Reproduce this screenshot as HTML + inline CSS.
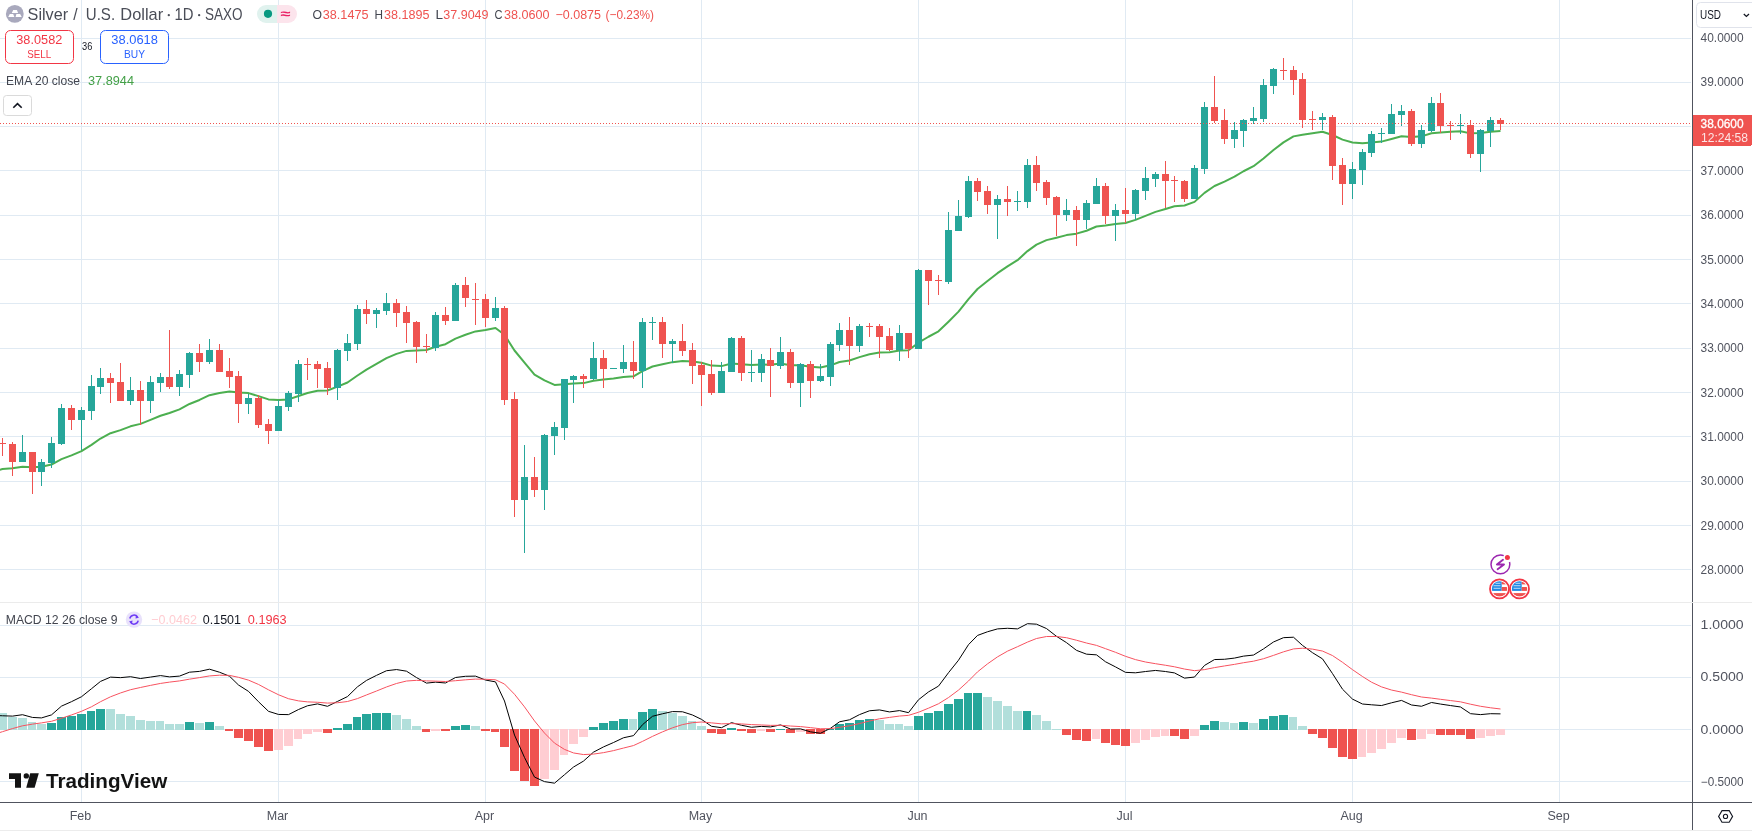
<!DOCTYPE html>
<html><head><meta charset="utf-8"><style>
html,body{margin:0;padding:0;background:#fff;width:1752px;height:831px;overflow:hidden;font-family:"Liberation Sans",sans-serif;}
#c{position:absolute;left:0;top:0;will-change:transform;}
.t{position:absolute;white-space:nowrap;}
</style></head><body>
<svg id="c" width="1752" height="831" viewBox="0 0 1752 831" shape-rendering="crispEdges">
<rect x="0" y="38" width="1691" height="1" fill="#e0eaf3"/>
<rect x="0" y="82" width="1691" height="1" fill="#e0eaf3"/>
<rect x="0" y="126" width="1691" height="1" fill="#e0eaf3"/>
<rect x="0" y="170" width="1691" height="1" fill="#e0eaf3"/>
<rect x="0" y="215" width="1691" height="1" fill="#e0eaf3"/>
<rect x="0" y="259" width="1691" height="1" fill="#e0eaf3"/>
<rect x="0" y="303" width="1691" height="1" fill="#e0eaf3"/>
<rect x="0" y="348" width="1691" height="1" fill="#e0eaf3"/>
<rect x="0" y="392" width="1691" height="1" fill="#e0eaf3"/>
<rect x="0" y="436" width="1691" height="1" fill="#e0eaf3"/>
<rect x="0" y="481" width="1691" height="1" fill="#e0eaf3"/>
<rect x="0" y="525" width="1691" height="1" fill="#e0eaf3"/>
<rect x="0" y="569" width="1691" height="1" fill="#e0eaf3"/>
<rect x="0" y="625" width="1691" height="1" fill="#e0eaf3"/>
<rect x="0" y="677" width="1691" height="1" fill="#e0eaf3"/>
<rect x="0" y="729" width="1691" height="1" fill="#e0eaf3"/>
<rect x="0" y="781" width="1691" height="1" fill="#e0eaf3"/>
<rect x="81" y="0" width="1" height="602" fill="#e0eaf3"/>
<rect x="81" y="603" width="1" height="199" fill="#e0eaf3"/>
<rect x="278" y="0" width="1" height="602" fill="#e0eaf3"/>
<rect x="278" y="603" width="1" height="199" fill="#e0eaf3"/>
<rect x="485" y="0" width="1" height="602" fill="#e0eaf3"/>
<rect x="485" y="603" width="1" height="199" fill="#e0eaf3"/>
<rect x="701" y="0" width="1" height="602" fill="#e0eaf3"/>
<rect x="701" y="603" width="1" height="199" fill="#e0eaf3"/>
<rect x="918" y="0" width="1" height="602" fill="#e0eaf3"/>
<rect x="918" y="603" width="1" height="199" fill="#e0eaf3"/>
<rect x="1125" y="0" width="1" height="602" fill="#e0eaf3"/>
<rect x="1125" y="603" width="1" height="199" fill="#e0eaf3"/>
<rect x="1352" y="0" width="1" height="602" fill="#e0eaf3"/>
<rect x="1352" y="603" width="1" height="199" fill="#e0eaf3"/>
<rect x="1559" y="0" width="1" height="602" fill="#e0eaf3"/>
<rect x="1559" y="603" width="1" height="199" fill="#e0eaf3"/>
<rect x="0" y="713.00" width="7" height="17.00" fill="#b2dfdb"/>
<rect x="8" y="717.00" width="9" height="13.00" fill="#b2dfdb"/>
<rect x="18" y="718.00" width="9" height="12.00" fill="#b2dfdb"/>
<rect x="28" y="722.00" width="8" height="8.00" fill="#b2dfdb"/>
<rect x="37" y="724.00" width="9" height="6.00" fill="#b2dfdb"/>
<rect x="47" y="723.00" width="9" height="7.00" fill="#26a69a"/>
<rect x="57" y="717.00" width="9" height="13.00" fill="#26a69a"/>
<rect x="67" y="716.00" width="9" height="14.00" fill="#26a69a"/>
<rect x="77" y="714.00" width="9" height="16.00" fill="#26a69a"/>
<rect x="87" y="711.00" width="8" height="19.00" fill="#26a69a"/>
<rect x="96" y="709.00" width="9" height="21.00" fill="#26a69a"/>
<rect x="106" y="709.00" width="9" height="21.00" fill="#b2dfdb"/>
<rect x="116" y="714.00" width="9" height="16.00" fill="#b2dfdb"/>
<rect x="126" y="716.00" width="9" height="14.00" fill="#b2dfdb"/>
<rect x="136" y="720.00" width="9" height="10.00" fill="#b2dfdb"/>
<rect x="146" y="721.00" width="9" height="9.00" fill="#b2dfdb"/>
<rect x="156" y="721.00" width="8" height="9.00" fill="#b2dfdb"/>
<rect x="165" y="724.00" width="9" height="6.00" fill="#b2dfdb"/>
<rect x="175" y="724.00" width="9" height="6.00" fill="#b2dfdb"/>
<rect x="185" y="722.00" width="9" height="8.00" fill="#26a69a"/>
<rect x="195" y="723.00" width="9" height="7.00" fill="#b2dfdb"/>
<rect x="205" y="722.00" width="9" height="8.00" fill="#26a69a"/>
<rect x="215" y="726.00" width="9" height="4.00" fill="#b2dfdb"/>
<rect x="225" y="729.00" width="8" height="2.00" fill="#ef5350"/>
<rect x="234" y="729.00" width="9" height="9.00" fill="#ef5350"/>
<rect x="244" y="729.00" width="9" height="12.00" fill="#ef5350"/>
<rect x="254" y="729.00" width="9" height="18.00" fill="#ef5350"/>
<rect x="264" y="729.00" width="9" height="22.00" fill="#ef5350"/>
<rect x="274" y="729.00" width="9" height="21.00" fill="#ffcdd2"/>
<rect x="284" y="729.00" width="9" height="17.00" fill="#ffcdd2"/>
<rect x="294" y="729.00" width="8" height="10.00" fill="#ffcdd2"/>
<rect x="303" y="729.00" width="9" height="5.00" fill="#ffcdd2"/>
<rect x="313" y="729.00" width="9" height="3.00" fill="#ffcdd2"/>
<rect x="323" y="729.00" width="9" height="4.00" fill="#ef5350"/>
<rect x="333" y="728.00" width="9" height="2.00" fill="#26a69a"/>
<rect x="343" y="724.00" width="9" height="6.00" fill="#26a69a"/>
<rect x="353" y="717.00" width="8" height="13.00" fill="#26a69a"/>
<rect x="362" y="714.00" width="9" height="16.00" fill="#26a69a"/>
<rect x="372" y="713.00" width="9" height="17.00" fill="#26a69a"/>
<rect x="382" y="713.00" width="9" height="17.00" fill="#26a69a"/>
<rect x="392" y="715.00" width="9" height="15.00" fill="#b2dfdb"/>
<rect x="402" y="719.00" width="9" height="11.00" fill="#b2dfdb"/>
<rect x="412" y="726.00" width="9" height="4.00" fill="#b2dfdb"/>
<rect x="422" y="729.00" width="8" height="3.00" fill="#ef5350"/>
<rect x="431" y="729.00" width="9" height="2.00" fill="#ffcdd2"/>
<rect x="441" y="729.00" width="9" height="2.00" fill="#ef5350"/>
<rect x="451" y="726.00" width="9" height="4.00" fill="#26a69a"/>
<rect x="461" y="725.00" width="9" height="5.00" fill="#26a69a"/>
<rect x="471" y="726.00" width="9" height="4.00" fill="#b2dfdb"/>
<rect x="481" y="729.00" width="9" height="2.00" fill="#ef5350"/>
<rect x="491" y="729.00" width="8" height="3.00" fill="#ef5350"/>
<rect x="500" y="729.00" width="9" height="18.00" fill="#ef5350"/>
<rect x="510" y="729.00" width="9" height="42.00" fill="#ef5350"/>
<rect x="520" y="729.00" width="9" height="52.00" fill="#ef5350"/>
<rect x="530" y="729.00" width="9" height="57.00" fill="#ef5350"/>
<rect x="540" y="729.00" width="9" height="50.00" fill="#ffcdd2"/>
<rect x="550" y="729.00" width="9" height="41.00" fill="#ffcdd2"/>
<rect x="560" y="729.00" width="8" height="26.00" fill="#ffcdd2"/>
<rect x="569" y="729.00" width="9" height="15.00" fill="#ffcdd2"/>
<rect x="579" y="729.00" width="9" height="8.00" fill="#ffcdd2"/>
<rect x="589" y="727.00" width="9" height="3.00" fill="#26a69a"/>
<rect x="599" y="723.00" width="9" height="7.00" fill="#26a69a"/>
<rect x="609" y="721.00" width="9" height="9.00" fill="#26a69a"/>
<rect x="619" y="719.00" width="9" height="11.00" fill="#26a69a"/>
<rect x="629" y="719.00" width="8" height="11.00" fill="#b2dfdb"/>
<rect x="638" y="712.00" width="9" height="18.00" fill="#26a69a"/>
<rect x="648" y="709.00" width="9" height="21.00" fill="#26a69a"/>
<rect x="658" y="711.00" width="9" height="19.00" fill="#b2dfdb"/>
<rect x="668" y="713.00" width="9" height="17.00" fill="#b2dfdb"/>
<rect x="678" y="716.00" width="9" height="14.00" fill="#b2dfdb"/>
<rect x="688" y="721.00" width="8" height="9.00" fill="#b2dfdb"/>
<rect x="697" y="726.00" width="9" height="4.00" fill="#b2dfdb"/>
<rect x="707" y="729.00" width="9" height="4.00" fill="#ef5350"/>
<rect x="717" y="729.00" width="9" height="5.00" fill="#ef5350"/>
<rect x="727" y="728.00" width="9" height="2.00" fill="#26a69a"/>
<rect x="737" y="729.00" width="9" height="2.00" fill="#ef5350"/>
<rect x="747" y="729.00" width="9" height="4.00" fill="#ef5350"/>
<rect x="757" y="729.00" width="8" height="2.00" fill="#ffcdd2"/>
<rect x="766" y="729.00" width="9" height="3.00" fill="#ef5350"/>
<rect x="776" y="729.00" width="9" height="1.00" fill="#26a69a"/>
<rect x="786" y="729.00" width="9" height="4.00" fill="#ef5350"/>
<rect x="796" y="729.00" width="9" height="3.00" fill="#ffcdd2"/>
<rect x="806" y="729.00" width="9" height="5.00" fill="#ef5350"/>
<rect x="816" y="729.00" width="9" height="5.00" fill="#ef5350"/>
<rect x="826" y="729.00" width="8" height="1.00" fill="#26a69a"/>
<rect x="835" y="724.00" width="9" height="6.00" fill="#26a69a"/>
<rect x="845" y="723.00" width="9" height="7.00" fill="#26a69a"/>
<rect x="855" y="720.00" width="9" height="10.00" fill="#26a69a"/>
<rect x="865" y="719.00" width="9" height="11.00" fill="#26a69a"/>
<rect x="875" y="720.00" width="9" height="10.00" fill="#b2dfdb"/>
<rect x="885" y="724.00" width="9" height="6.00" fill="#b2dfdb"/>
<rect x="895" y="724.00" width="8" height="6.00" fill="#b2dfdb"/>
<rect x="904" y="726.00" width="9" height="4.00" fill="#b2dfdb"/>
<rect x="914" y="716.00" width="9" height="14.00" fill="#26a69a"/>
<rect x="924" y="713.00" width="9" height="17.00" fill="#26a69a"/>
<rect x="934" y="711.00" width="9" height="19.00" fill="#26a69a"/>
<rect x="944" y="704.00" width="9" height="26.00" fill="#26a69a"/>
<rect x="954" y="699.00" width="9" height="31.00" fill="#26a69a"/>
<rect x="964" y="693.00" width="8" height="37.00" fill="#26a69a"/>
<rect x="973" y="693.00" width="9" height="37.00" fill="#26a69a"/>
<rect x="983" y="697.00" width="9" height="33.00" fill="#b2dfdb"/>
<rect x="993" y="701.00" width="9" height="29.00" fill="#b2dfdb"/>
<rect x="1003" y="706.00" width="9" height="24.00" fill="#b2dfdb"/>
<rect x="1013" y="711.00" width="9" height="19.00" fill="#b2dfdb"/>
<rect x="1023" y="711.00" width="8" height="19.00" fill="#26a69a"/>
<rect x="1032" y="715.00" width="9" height="15.00" fill="#b2dfdb"/>
<rect x="1042" y="721.00" width="9" height="9.00" fill="#b2dfdb"/>
<rect x="1052" y="729.00" width="9" height="1.00" fill="#b2dfdb"/>
<rect x="1062" y="729.00" width="9" height="6.00" fill="#ef5350"/>
<rect x="1072" y="729.00" width="9" height="11.00" fill="#ef5350"/>
<rect x="1082" y="729.00" width="9" height="12.00" fill="#ef5350"/>
<rect x="1092" y="729.00" width="8" height="10.00" fill="#ffcdd2"/>
<rect x="1101" y="729.00" width="9" height="14.00" fill="#ef5350"/>
<rect x="1111" y="729.00" width="9" height="16.00" fill="#ef5350"/>
<rect x="1121" y="729.00" width="9" height="17.00" fill="#ef5350"/>
<rect x="1131" y="729.00" width="9" height="14.00" fill="#ffcdd2"/>
<rect x="1141" y="729.00" width="9" height="11.00" fill="#ffcdd2"/>
<rect x="1151" y="729.00" width="9" height="8.00" fill="#ffcdd2"/>
<rect x="1161" y="729.00" width="8" height="7.00" fill="#ffcdd2"/>
<rect x="1170" y="729.00" width="9" height="7.00" fill="#ef5350"/>
<rect x="1180" y="729.00" width="9" height="10.00" fill="#ef5350"/>
<rect x="1190" y="729.00" width="9" height="7.00" fill="#ffcdd2"/>
<rect x="1200" y="725.00" width="9" height="5.00" fill="#26a69a"/>
<rect x="1210" y="721.00" width="9" height="9.00" fill="#26a69a"/>
<rect x="1220" y="722.00" width="9" height="8.00" fill="#b2dfdb"/>
<rect x="1230" y="723.00" width="8" height="7.00" fill="#b2dfdb"/>
<rect x="1239" y="722.00" width="9" height="8.00" fill="#26a69a"/>
<rect x="1249" y="723.00" width="9" height="7.00" fill="#b2dfdb"/>
<rect x="1259" y="719.00" width="9" height="11.00" fill="#26a69a"/>
<rect x="1269" y="716.00" width="9" height="14.00" fill="#26a69a"/>
<rect x="1279" y="715.00" width="9" height="15.00" fill="#26a69a"/>
<rect x="1289" y="717.00" width="8" height="13.00" fill="#b2dfdb"/>
<rect x="1298" y="726.00" width="9" height="4.00" fill="#b2dfdb"/>
<rect x="1308" y="729.00" width="9" height="5.00" fill="#ef5350"/>
<rect x="1318" y="729.00" width="9" height="9.00" fill="#ef5350"/>
<rect x="1328" y="729.00" width="9" height="19.00" fill="#ef5350"/>
<rect x="1338" y="729.00" width="9" height="28.00" fill="#ef5350"/>
<rect x="1348" y="729.00" width="9" height="30.00" fill="#ef5350"/>
<rect x="1358" y="729.00" width="8" height="28.00" fill="#ffcdd2"/>
<rect x="1367" y="729.00" width="9" height="24.00" fill="#ffcdd2"/>
<rect x="1377" y="729.00" width="9" height="20.00" fill="#ffcdd2"/>
<rect x="1387" y="729.00" width="9" height="14.00" fill="#ffcdd2"/>
<rect x="1397" y="729.00" width="9" height="9.00" fill="#ffcdd2"/>
<rect x="1407" y="729.00" width="9" height="11.00" fill="#ef5350"/>
<rect x="1417" y="729.00" width="9" height="10.00" fill="#ffcdd2"/>
<rect x="1427" y="729.00" width="8" height="5.00" fill="#ffcdd2"/>
<rect x="1436" y="729.00" width="9" height="6.00" fill="#ef5350"/>
<rect x="1446" y="729.00" width="9" height="6.00" fill="#ef5350"/>
<rect x="1456" y="729.00" width="9" height="6.00" fill="#ef5350"/>
<rect x="1466" y="729.00" width="9" height="10.00" fill="#ef5350"/>
<rect x="1476" y="729.00" width="9" height="9.00" fill="#ffcdd2"/>
<rect x="1486" y="729.00" width="9" height="7.00" fill="#ffcdd2"/>
<rect x="1496" y="729.00" width="9" height="6.00" fill="#ffcdd2"/>
<polyline points="-7.35,715.43 2.50,715.77 12.50,716.11 22.50,714.71 32.50,717.45 41.50,717.92 51.50,714.88 61.50,706.12 71.50,701.67 81.50,696.73 91.50,688.71 100.50,681.41 110.50,677.11 120.50,677.65 130.50,676.71 140.50,678.53 150.50,677.08 160.50,675.59 169.50,676.88 179.50,676.10 189.50,672.19 199.50,671.38 209.50,669.20 219.50,672.23 229.50,676.21 238.50,685.00 248.50,691.36 258.50,701.73 268.50,711.32 278.50,714.44 288.50,714.62 298.50,709.53 307.50,705.77 317.50,703.90 327.50,706.31 337.50,701.41 347.50,696.57 357.50,686.79 366.50,680.42 376.50,675.37 386.50,670.72 396.50,669.56 406.50,671.18 416.50,677.57 426.50,683.11 435.50,682.17 445.50,682.97 455.50,677.50 465.50,676.29 475.50,676.11 485.50,680.04 495.50,681.89 504.50,701.00 514.50,735.07 524.50,757.46 534.50,777.06 544.50,781.64 554.50,783.16 564.50,774.71 573.50,767.04 583.50,761.09 593.50,752.14 603.50,746.90 613.50,742.53 623.50,737.78 633.50,735.61 642.50,724.70 652.50,716.27 662.50,713.78 672.50,711.57 682.50,711.78 692.50,715.00 701.50,719.37 711.50,726.29 721.50,727.69 731.50,722.65 741.50,725.26 751.50,727.28 761.50,726.39 770.50,726.95 780.50,724.91 790.50,729.06 800.50,728.87 810.50,731.83 820.50,733.25 830.50,728.30 839.50,721.81 849.50,719.80 859.50,714.60 869.50,710.77 879.50,709.93 889.50,711.93 899.50,710.59 908.50,712.66 918.50,699.74 928.50,691.91 938.50,686.10 948.50,672.69 958.50,660.21 968.50,644.64 977.50,635.45 987.50,631.76 997.50,628.90 1007.50,628.29 1017.50,628.89 1027.50,623.68 1036.50,624.18 1046.50,628.55 1056.50,636.32 1066.50,642.64 1076.50,650.35 1086.50,654.17 1096.50,654.85 1105.50,661.78 1115.50,666.90 1125.50,672.35 1135.50,672.81 1145.50,671.53 1155.50,670.44 1165.50,671.53 1174.50,672.92 1184.50,678.14 1194.50,677.05 1204.50,665.44 1214.50,659.55 1224.50,659.27 1234.50,658.09 1243.50,656.13 1253.50,655.05 1263.50,648.90 1273.50,641.97 1283.50,637.66 1293.50,637.23 1302.50,645.41 1312.50,652.69 1322.50,658.87 1332.50,673.60 1342.50,689.19 1352.50,699.11 1362.50,704.03 1371.50,704.79 1381.50,705.54 1391.50,702.80 1401.50,700.42 1411.50,704.99 1421.50,706.27 1431.50,702.49 1440.50,704.07 1450.50,705.55 1460.50,706.97 1470.50,713.67 1480.50,714.62 1490.50,713.70 1500.50,713.87" fill="none" stroke="#000000" stroke-width="1" stroke-linejoin="round" shape-rendering="auto"/>
<polyline points="-7.35,734.80 2.50,731.68 12.50,728.57 22.50,725.80 32.50,724.13 41.50,722.89 51.50,721.28 61.50,718.25 71.50,714.94 81.50,711.29 91.50,706.78 100.50,701.71 110.50,696.79 120.50,692.96 130.50,689.71 140.50,687.47 150.50,685.39 160.50,683.43 169.50,682.12 179.50,680.92 189.50,679.17 199.50,677.61 209.50,675.93 219.50,675.19 229.50,675.40 238.50,677.32 248.50,680.13 258.50,684.45 268.50,689.82 278.50,694.75 288.50,698.72 298.50,700.88 307.50,701.86 317.50,702.27 327.50,703.08 337.50,702.75 347.50,701.51 357.50,698.57 366.50,694.94 376.50,691.02 386.50,686.96 396.50,683.48 406.50,681.02 416.50,680.33 426.50,680.89 435.50,681.14 445.50,681.51 455.50,680.71 465.50,679.82 475.50,679.08 485.50,679.27 495.50,679.80 504.50,684.04 514.50,694.24 524.50,706.89 534.50,720.92 544.50,733.07 554.50,743.08 564.50,749.41 573.50,752.94 583.50,754.57 593.50,754.08 603.50,752.65 613.50,750.62 623.50,748.05 633.50,745.56 642.50,741.39 652.50,736.37 662.50,731.85 672.50,727.79 682.50,724.59 692.50,722.67 701.50,722.01 711.50,722.87 721.50,723.83 731.50,723.60 741.50,723.93 751.50,724.60 761.50,724.96 770.50,725.36 780.50,725.27 790.50,726.03 800.50,726.59 810.50,727.64 820.50,728.76 830.50,728.67 839.50,727.30 849.50,725.80 859.50,723.56 869.50,721.00 879.50,718.79 889.50,717.42 899.50,716.05 908.50,715.37 918.50,712.25 928.50,708.18 938.50,703.76 948.50,697.55 958.50,690.08 968.50,680.99 977.50,671.89 987.50,663.86 997.50,656.87 1007.50,651.15 1017.50,646.70 1027.50,642.09 1036.50,638.51 1046.50,636.52 1056.50,636.48 1066.50,637.71 1076.50,640.24 1086.50,643.03 1096.50,645.39 1105.50,648.67 1115.50,652.31 1125.50,656.32 1135.50,659.62 1145.50,662.00 1155.50,663.69 1165.50,665.26 1174.50,666.79 1184.50,669.06 1194.50,670.66 1204.50,669.62 1214.50,667.60 1224.50,665.94 1234.50,664.37 1243.50,662.72 1253.50,661.18 1263.50,658.73 1273.50,655.38 1283.50,651.83 1293.50,648.91 1302.50,648.21 1312.50,649.11 1322.50,651.06 1332.50,655.57 1342.50,662.29 1352.50,669.66 1362.50,676.53 1371.50,682.18 1381.50,686.86 1391.50,690.04 1401.50,692.12 1411.50,694.69 1421.50,697.01 1431.50,698.10 1440.50,699.30 1450.50,700.55 1460.50,701.83 1470.50,704.20 1480.50,706.28 1490.50,707.77 1500.50,708.99" fill="none" stroke="#f7525f" stroke-width="1" stroke-linejoin="round" shape-rendering="auto"/>
<polyline points="-7.35,471.76 2.50,469.05 12.50,468.36 22.50,466.81 32.50,467.28 41.50,466.78 51.50,464.52 61.50,459.16 71.50,455.40 81.50,451.09 91.50,444.90 100.50,438.55 110.50,433.24 120.50,430.12 130.50,426.31 140.50,423.85 150.50,419.88 160.50,415.79 169.50,413.03 179.50,409.32 189.50,403.98 199.50,399.96 209.50,395.20 219.50,392.96 229.50,391.41 238.50,392.58 248.50,393.11 258.50,396.11 268.50,399.41 278.50,400.05 288.50,399.40 298.50,396.07 307.50,393.05 317.50,390.73 327.50,390.45 337.50,386.62 347.50,382.47 357.50,375.50 366.50,369.59 376.50,363.94 386.50,358.15 396.50,353.84 406.50,350.88 416.50,350.46 426.50,350.05 435.50,346.73 445.50,344.24 455.50,338.61 465.50,334.78 475.50,331.40 485.50,330.10 495.50,328.01 504.50,334.82 514.50,350.51 524.50,362.56 534.50,374.67 544.50,380.42 554.50,384.88 564.50,384.33 573.50,383.55 583.50,383.10 593.50,380.70 603.50,379.56 613.50,378.49 623.50,376.93 633.50,376.34 642.50,371.18 652.50,366.53 662.50,364.35 672.50,362.14 682.50,361.03 692.50,361.48 701.50,362.74 711.50,365.59 721.50,366.12 731.50,363.46 741.50,364.35 751.50,365.11 761.50,364.54 770.50,364.64 780.50,363.46 790.50,365.28 800.50,365.18 810.50,366.67 820.50,367.56 830.50,365.32 839.50,361.96 849.50,360.43 859.50,357.15 869.50,354.22 879.50,352.56 889.50,352.30 899.50,350.48 908.50,350.31 918.50,342.67 928.50,336.75 938.50,331.34 948.50,321.70 958.50,311.64 968.50,299.20 977.50,288.98 987.50,280.98 997.50,273.18 1007.50,266.37 1017.50,260.17 1027.50,251.10 1036.50,244.60 1046.50,240.14 1056.50,237.72 1066.50,235.11 1076.50,233.65 1086.50,230.74 1096.50,226.50 1105.50,225.48 1115.50,224.01 1125.50,223.05 1135.50,219.91 1145.50,215.91 1155.50,211.91 1165.50,208.93 1174.50,206.18 1184.50,205.46 1194.50,201.88 1204.50,192.87 1214.50,185.98 1224.50,181.54 1234.50,176.63 1243.50,171.25 1253.50,166.19 1263.50,158.48 1273.50,149.97 1283.50,142.34 1293.50,136.39 1302.50,134.80 1312.50,133.32 1322.50,131.78 1332.50,135.00 1342.50,139.65 1352.50,142.45 1362.50,143.36 1371.50,142.47 1381.50,141.60 1391.50,138.98 1401.50,136.33 1411.50,137.04 1421.50,136.37 1431.50,133.20 1440.50,132.49 1450.50,131.81 1460.50,131.20 1470.50,133.36 1480.50,133.03 1490.50,131.80 1500.50,131.04" fill="none" stroke="#4caf50" stroke-width="2" stroke-linejoin="round" shape-rendering="auto"/>
<rect x="2" y="438.0" width="1" height="17.7" fill="#ef5350"/>
<rect x="-1" y="443.3" width="7" height="1.0" fill="#ef5350"/>
<rect x="12" y="442.0" width="1" height="33.9" fill="#ef5350"/>
<rect x="9" y="443.9" width="7" height="17.9" fill="#ef5350"/>
<rect x="22" y="435.1" width="1" height="26.7" fill="#26a69a"/>
<rect x="19" y="452.1" width="7" height="9.7" fill="#26a69a"/>
<rect x="32" y="452.1" width="1" height="41.8" fill="#ef5350"/>
<rect x="29" y="452.1" width="7" height="19.6" fill="#ef5350"/>
<rect x="41" y="459.1" width="1" height="26.7" fill="#26a69a"/>
<rect x="38" y="462.0" width="7" height="9.7" fill="#26a69a"/>
<rect x="51" y="437.2" width="1" height="30.7" fill="#26a69a"/>
<rect x="48" y="443.1" width="7" height="19.6" fill="#26a69a"/>
<rect x="61" y="404.2" width="1" height="40.7" fill="#26a69a"/>
<rect x="58" y="408.2" width="7" height="35.7" fill="#26a69a"/>
<rect x="71" y="404.9" width="1" height="25.0" fill="#ef5350"/>
<rect x="68" y="408.2" width="7" height="11.5" fill="#ef5350"/>
<rect x="81" y="407.0" width="1" height="42.6" fill="#26a69a"/>
<rect x="78" y="410.2" width="7" height="9.5" fill="#26a69a"/>
<rect x="91" y="375.0" width="1" height="44.7" fill="#26a69a"/>
<rect x="88" y="386.1" width="7" height="24.5" fill="#26a69a"/>
<rect x="100" y="368.1" width="1" height="25.7" fill="#26a69a"/>
<rect x="97" y="378.2" width="7" height="8.6" fill="#26a69a"/>
<rect x="110" y="373.1" width="1" height="29.6" fill="#ef5350"/>
<rect x="107" y="378.2" width="7" height="4.6" fill="#ef5350"/>
<rect x="120" y="363.0" width="1" height="37.5" fill="#ef5350"/>
<rect x="117" y="382.1" width="7" height="18.4" fill="#ef5350"/>
<rect x="130" y="377.0" width="1" height="27.9" fill="#26a69a"/>
<rect x="127" y="390.1" width="7" height="10.4" fill="#26a69a"/>
<rect x="140" y="381.0" width="1" height="43.7" fill="#ef5350"/>
<rect x="137" y="390.1" width="7" height="10.4" fill="#ef5350"/>
<rect x="150" y="376.0" width="1" height="36.8" fill="#26a69a"/>
<rect x="147" y="382.1" width="7" height="18.4" fill="#26a69a"/>
<rect x="160" y="373.1" width="1" height="18.8" fill="#26a69a"/>
<rect x="157" y="377.0" width="7" height="5.8" fill="#26a69a"/>
<rect x="169" y="330.1" width="1" height="58.4" fill="#ef5350"/>
<rect x="166" y="377.3" width="7" height="9.5" fill="#ef5350"/>
<rect x="179" y="370.1" width="1" height="25.7" fill="#26a69a"/>
<rect x="176" y="374.1" width="7" height="12.7" fill="#26a69a"/>
<rect x="189" y="352.0" width="1" height="35.8" fill="#26a69a"/>
<rect x="186" y="353.2" width="7" height="21.6" fill="#26a69a"/>
<rect x="199" y="343.8" width="1" height="28.1" fill="#ef5350"/>
<rect x="196" y="353.2" width="7" height="8.6" fill="#ef5350"/>
<rect x="209" y="339.0" width="1" height="25.0" fill="#26a69a"/>
<rect x="206" y="350.0" width="7" height="11.8" fill="#26a69a"/>
<rect x="219" y="343.8" width="1" height="27.8" fill="#ef5350"/>
<rect x="216" y="350.0" width="7" height="21.6" fill="#ef5350"/>
<rect x="229" y="357.9" width="1" height="29.9" fill="#ef5350"/>
<rect x="226" y="370.9" width="7" height="5.8" fill="#ef5350"/>
<rect x="238" y="370.9" width="1" height="52.0" fill="#ef5350"/>
<rect x="235" y="376.0" width="7" height="27.7" fill="#ef5350"/>
<rect x="248" y="394.0" width="1" height="19.8" fill="#26a69a"/>
<rect x="245" y="398.2" width="7" height="5.5" fill="#26a69a"/>
<rect x="258" y="395.3" width="1" height="32.5" fill="#ef5350"/>
<rect x="255" y="398.2" width="7" height="26.4" fill="#ef5350"/>
<rect x="268" y="418.9" width="1" height="24.8" fill="#ef5350"/>
<rect x="265" y="424.2" width="7" height="6.5" fill="#ef5350"/>
<rect x="278" y="399.5" width="1" height="31.4" fill="#26a69a"/>
<rect x="275" y="406.2" width="7" height="24.5" fill="#26a69a"/>
<rect x="288" y="391.1" width="1" height="19.9" fill="#26a69a"/>
<rect x="285" y="393.2" width="7" height="13.5" fill="#26a69a"/>
<rect x="298" y="360.0" width="1" height="41.9" fill="#26a69a"/>
<rect x="295" y="364.4" width="7" height="29.3" fill="#26a69a"/>
<rect x="307" y="357.9" width="1" height="21.9" fill="#ef5350"/>
<rect x="304" y="364.4" width="7" height="1.0" fill="#ef5350"/>
<rect x="317" y="361.0" width="1" height="26.8" fill="#ef5350"/>
<rect x="314" y="364.4" width="7" height="4.3" fill="#ef5350"/>
<rect x="327" y="361.9" width="1" height="32.8" fill="#ef5350"/>
<rect x="324" y="368.3" width="7" height="19.5" fill="#ef5350"/>
<rect x="337" y="349.2" width="1" height="50.5" fill="#26a69a"/>
<rect x="334" y="350.2" width="7" height="37.6" fill="#26a69a"/>
<rect x="347" y="334.0" width="1" height="26.8" fill="#26a69a"/>
<rect x="344" y="343.1" width="7" height="7.5" fill="#26a69a"/>
<rect x="357" y="305.2" width="1" height="44.4" fill="#26a69a"/>
<rect x="354" y="309.2" width="7" height="34.5" fill="#26a69a"/>
<rect x="366" y="300.1" width="1" height="23.8" fill="#ef5350"/>
<rect x="363" y="309.2" width="7" height="4.3" fill="#ef5350"/>
<rect x="376" y="308.1" width="1" height="19.7" fill="#26a69a"/>
<rect x="373" y="310.2" width="7" height="3.3" fill="#26a69a"/>
<rect x="386" y="293.0" width="1" height="21.8" fill="#26a69a"/>
<rect x="383" y="303.2" width="7" height="7.6" fill="#26a69a"/>
<rect x="396" y="298.9" width="1" height="27.9" fill="#ef5350"/>
<rect x="393" y="303.2" width="7" height="9.7" fill="#ef5350"/>
<rect x="406" y="306.1" width="1" height="36.8" fill="#ef5350"/>
<rect x="403" y="312.2" width="7" height="10.5" fill="#ef5350"/>
<rect x="416" y="321.3" width="1" height="41.6" fill="#ef5350"/>
<rect x="413" y="322.3" width="7" height="24.2" fill="#ef5350"/>
<rect x="426" y="334.0" width="1" height="18.7" fill="#ef5350"/>
<rect x="423" y="346.2" width="7" height="1.0" fill="#ef5350"/>
<rect x="435" y="312.2" width="1" height="38.4" fill="#26a69a"/>
<rect x="432" y="315.2" width="7" height="32.5" fill="#26a69a"/>
<rect x="445" y="307.1" width="1" height="17.8" fill="#ef5350"/>
<rect x="442" y="315.2" width="7" height="5.3" fill="#ef5350"/>
<rect x="455" y="283.0" width="1" height="37.5" fill="#26a69a"/>
<rect x="452" y="285.2" width="7" height="35.3" fill="#26a69a"/>
<rect x="465" y="276.9" width="1" height="29.9" fill="#ef5350"/>
<rect x="462" y="285.2" width="7" height="13.2" fill="#ef5350"/>
<rect x="475" y="283.0" width="1" height="41.9" fill="#ef5350"/>
<rect x="472" y="298.6" width="7" height="1.0" fill="#ef5350"/>
<rect x="485" y="294.1" width="1" height="32.7" fill="#ef5350"/>
<rect x="482" y="299.3" width="7" height="18.4" fill="#ef5350"/>
<rect x="495" y="297.0" width="1" height="23.6" fill="#26a69a"/>
<rect x="492" y="308.2" width="7" height="9.5" fill="#26a69a"/>
<rect x="504" y="306.2" width="1" height="98.4" fill="#ef5350"/>
<rect x="501" y="308.1" width="7" height="91.4" fill="#ef5350"/>
<rect x="514" y="392.1" width="1" height="124.4" fill="#ef5350"/>
<rect x="511" y="399.0" width="7" height="100.6" fill="#ef5350"/>
<rect x="524" y="445.0" width="1" height="107.9" fill="#26a69a"/>
<rect x="521" y="477.0" width="7" height="22.6" fill="#26a69a"/>
<rect x="534" y="457.2" width="1" height="39.5" fill="#ef5350"/>
<rect x="531" y="477.0" width="7" height="12.7" fill="#ef5350"/>
<rect x="544" y="434.1" width="1" height="75.7" fill="#26a69a"/>
<rect x="541" y="435.1" width="7" height="54.6" fill="#26a69a"/>
<rect x="554" y="421.8" width="1" height="32.8" fill="#26a69a"/>
<rect x="551" y="427.2" width="7" height="8.5" fill="#26a69a"/>
<rect x="564" y="379.1" width="1" height="60.6" fill="#26a69a"/>
<rect x="561" y="379.1" width="7" height="48.7" fill="#26a69a"/>
<rect x="573" y="374.9" width="1" height="27.7" fill="#26a69a"/>
<rect x="570" y="376.2" width="7" height="3.3" fill="#26a69a"/>
<rect x="583" y="374.0" width="1" height="13.8" fill="#ef5350"/>
<rect x="580" y="376.2" width="7" height="2.6" fill="#ef5350"/>
<rect x="593" y="342.0" width="1" height="37.5" fill="#26a69a"/>
<rect x="590" y="357.9" width="7" height="20.9" fill="#26a69a"/>
<rect x="603" y="350.0" width="1" height="37.8" fill="#ef5350"/>
<rect x="600" y="358.2" width="7" height="10.5" fill="#ef5350"/>
<rect x="613" y="368.3" width="1" height="0.0" fill="#26a69a"/>
<rect x="610" y="368.3" width="7" height="1.0" fill="#26a69a"/>
<rect x="623" y="345.1" width="1" height="27.8" fill="#26a69a"/>
<rect x="620" y="362.1" width="7" height="6.5" fill="#26a69a"/>
<rect x="633" y="341.2" width="1" height="37.5" fill="#ef5350"/>
<rect x="630" y="362.1" width="7" height="8.7" fill="#ef5350"/>
<rect x="642" y="318.1" width="1" height="69.6" fill="#26a69a"/>
<rect x="639" y="322.1" width="7" height="48.7" fill="#26a69a"/>
<rect x="652" y="317.0" width="1" height="22.7" fill="#26a69a"/>
<rect x="649" y="322.4" width="7" height="1.0" fill="#26a69a"/>
<rect x="662" y="317.0" width="1" height="40.8" fill="#ef5350"/>
<rect x="659" y="322.1" width="7" height="21.5" fill="#ef5350"/>
<rect x="672" y="339.0" width="1" height="23.5" fill="#26a69a"/>
<rect x="669" y="341.2" width="7" height="2.4" fill="#26a69a"/>
<rect x="682" y="324.1" width="1" height="31.5" fill="#ef5350"/>
<rect x="679" y="341.2" width="7" height="9.3" fill="#ef5350"/>
<rect x="692" y="342.9" width="1" height="40.9" fill="#ef5350"/>
<rect x="689" y="350.1" width="7" height="15.6" fill="#ef5350"/>
<rect x="701" y="362.1" width="1" height="43.7" fill="#ef5350"/>
<rect x="698" y="365.0" width="7" height="9.7" fill="#ef5350"/>
<rect x="711" y="360.0" width="1" height="34.9" fill="#ef5350"/>
<rect x="708" y="374.1" width="7" height="18.6" fill="#ef5350"/>
<rect x="721" y="362.0" width="1" height="30.7" fill="#26a69a"/>
<rect x="718" y="371.1" width="7" height="21.6" fill="#26a69a"/>
<rect x="731" y="337.0" width="1" height="34.8" fill="#26a69a"/>
<rect x="728" y="338.2" width="7" height="33.6" fill="#26a69a"/>
<rect x="741" y="336.0" width="1" height="44.8" fill="#ef5350"/>
<rect x="738" y="338.2" width="7" height="34.6" fill="#ef5350"/>
<rect x="751" y="350.0" width="1" height="31.8" fill="#26a69a"/>
<rect x="748" y="372.4" width="7" height="1.0" fill="#26a69a"/>
<rect x="761" y="354.0" width="1" height="27.8" fill="#26a69a"/>
<rect x="758" y="359.1" width="7" height="13.7" fill="#26a69a"/>
<rect x="770" y="348.0" width="1" height="48.9" fill="#ef5350"/>
<rect x="767" y="360.1" width="7" height="5.5" fill="#ef5350"/>
<rect x="780" y="337.0" width="1" height="31.9" fill="#26a69a"/>
<rect x="777" y="352.2" width="7" height="13.4" fill="#26a69a"/>
<rect x="790" y="349.0" width="1" height="39.0" fill="#ef5350"/>
<rect x="787" y="352.2" width="7" height="30.4" fill="#ef5350"/>
<rect x="800" y="363.1" width="1" height="43.7" fill="#26a69a"/>
<rect x="797" y="364.2" width="7" height="18.4" fill="#26a69a"/>
<rect x="810" y="361.0" width="1" height="36.7" fill="#ef5350"/>
<rect x="807" y="364.2" width="7" height="16.6" fill="#ef5350"/>
<rect x="820" y="364.1" width="1" height="17.8" fill="#26a69a"/>
<rect x="817" y="376.1" width="7" height="4.8" fill="#26a69a"/>
<rect x="830" y="342.2" width="1" height="43.7" fill="#26a69a"/>
<rect x="827" y="344.0" width="7" height="32.8" fill="#26a69a"/>
<rect x="839" y="323.1" width="1" height="27.7" fill="#26a69a"/>
<rect x="836" y="330.0" width="7" height="14.8" fill="#26a69a"/>
<rect x="849" y="317.0" width="1" height="48.0" fill="#ef5350"/>
<rect x="846" y="330.0" width="7" height="15.9" fill="#ef5350"/>
<rect x="859" y="324.1" width="1" height="27.6" fill="#26a69a"/>
<rect x="856" y="326.0" width="7" height="19.9" fill="#26a69a"/>
<rect x="869" y="323.1" width="1" height="13.7" fill="#ef5350"/>
<rect x="866" y="326.4" width="7" height="1.0" fill="#ef5350"/>
<rect x="879" y="324.1" width="1" height="33.7" fill="#ef5350"/>
<rect x="876" y="326.0" width="7" height="10.8" fill="#ef5350"/>
<rect x="889" y="328.2" width="1" height="22.6" fill="#ef5350"/>
<rect x="886" y="336.1" width="7" height="13.7" fill="#ef5350"/>
<rect x="899" y="325.0" width="1" height="35.6" fill="#26a69a"/>
<rect x="896" y="333.2" width="7" height="16.6" fill="#26a69a"/>
<rect x="908" y="333.2" width="1" height="24.6" fill="#ef5350"/>
<rect x="905" y="333.2" width="7" height="15.5" fill="#ef5350"/>
<rect x="918" y="268.5" width="1" height="80.2" fill="#26a69a"/>
<rect x="915" y="270.1" width="7" height="78.6" fill="#26a69a"/>
<rect x="928" y="270.1" width="1" height="34.6" fill="#ef5350"/>
<rect x="925" y="270.1" width="7" height="10.4" fill="#ef5350"/>
<rect x="938" y="275.0" width="1" height="20.0" fill="#ef5350"/>
<rect x="935" y="280.0" width="7" height="1.0" fill="#ef5350"/>
<rect x="948" y="212.1" width="1" height="71.6" fill="#26a69a"/>
<rect x="945" y="230.1" width="7" height="51.9" fill="#26a69a"/>
<rect x="958" y="200.1" width="1" height="30.8" fill="#26a69a"/>
<rect x="955" y="216.1" width="7" height="14.8" fill="#26a69a"/>
<rect x="968" y="176.0" width="1" height="41.9" fill="#26a69a"/>
<rect x="965" y="181.0" width="7" height="35.9" fill="#26a69a"/>
<rect x="977" y="178.2" width="1" height="22.6" fill="#ef5350"/>
<rect x="974" y="181.0" width="7" height="10.9" fill="#ef5350"/>
<rect x="987" y="186.1" width="1" height="27.7" fill="#ef5350"/>
<rect x="984" y="191.2" width="7" height="13.7" fill="#ef5350"/>
<rect x="997" y="195.1" width="1" height="43.7" fill="#26a69a"/>
<rect x="994" y="199.1" width="7" height="5.8" fill="#26a69a"/>
<rect x="1007" y="186.1" width="1" height="29.6" fill="#ef5350"/>
<rect x="1004" y="199.1" width="7" height="2.6" fill="#ef5350"/>
<rect x="1017" y="191.2" width="1" height="19.7" fill="#26a69a"/>
<rect x="1014" y="201.3" width="7" height="1.0" fill="#26a69a"/>
<rect x="1027" y="159.0" width="1" height="48.8" fill="#26a69a"/>
<rect x="1024" y="164.9" width="7" height="36.8" fill="#26a69a"/>
<rect x="1036" y="156.1" width="1" height="34.8" fill="#ef5350"/>
<rect x="1033" y="164.9" width="7" height="18.0" fill="#ef5350"/>
<rect x="1046" y="179.9" width="1" height="25.0" fill="#ef5350"/>
<rect x="1043" y="182.1" width="7" height="15.6" fill="#ef5350"/>
<rect x="1056" y="196.2" width="1" height="39.8" fill="#ef5350"/>
<rect x="1053" y="197.0" width="7" height="17.8" fill="#ef5350"/>
<rect x="1066" y="199.2" width="1" height="21.6" fill="#26a69a"/>
<rect x="1063" y="210.3" width="7" height="4.4" fill="#26a69a"/>
<rect x="1076" y="206.1" width="1" height="39.7" fill="#ef5350"/>
<rect x="1073" y="210.3" width="7" height="9.5" fill="#ef5350"/>
<rect x="1086" y="199.9" width="1" height="28.9" fill="#26a69a"/>
<rect x="1083" y="203.1" width="7" height="16.7" fill="#26a69a"/>
<rect x="1096" y="177.9" width="1" height="25.9" fill="#26a69a"/>
<rect x="1093" y="186.2" width="7" height="17.6" fill="#26a69a"/>
<rect x="1105" y="183.0" width="1" height="41.1" fill="#ef5350"/>
<rect x="1102" y="186.2" width="7" height="29.6" fill="#ef5350"/>
<rect x="1115" y="203.9" width="1" height="36.7" fill="#26a69a"/>
<rect x="1112" y="210.0" width="7" height="5.8" fill="#26a69a"/>
<rect x="1125" y="187.9" width="1" height="34.8" fill="#ef5350"/>
<rect x="1122" y="210.0" width="7" height="3.9" fill="#ef5350"/>
<rect x="1135" y="189.0" width="1" height="30.7" fill="#26a69a"/>
<rect x="1132" y="190.1" width="7" height="23.8" fill="#26a69a"/>
<rect x="1145" y="167.0" width="1" height="32.9" fill="#26a69a"/>
<rect x="1142" y="177.9" width="7" height="13.0" fill="#26a69a"/>
<rect x="1155" y="172.0" width="1" height="14.9" fill="#26a69a"/>
<rect x="1152" y="173.9" width="7" height="5.0" fill="#26a69a"/>
<rect x="1165" y="161.0" width="1" height="46.9" fill="#ef5350"/>
<rect x="1162" y="173.9" width="7" height="6.8" fill="#ef5350"/>
<rect x="1174" y="176.1" width="1" height="25.6" fill="#ef5350"/>
<rect x="1171" y="180.0" width="7" height="1.0" fill="#ef5350"/>
<rect x="1184" y="180.0" width="1" height="21.7" fill="#ef5350"/>
<rect x="1181" y="181.3" width="7" height="17.3" fill="#ef5350"/>
<rect x="1194" y="165.1" width="1" height="33.9" fill="#26a69a"/>
<rect x="1191" y="167.9" width="7" height="31.1" fill="#26a69a"/>
<rect x="1204" y="102.1" width="1" height="71.6" fill="#26a69a"/>
<rect x="1201" y="107.3" width="7" height="61.5" fill="#26a69a"/>
<rect x="1214" y="75.9" width="1" height="46.9" fill="#ef5350"/>
<rect x="1211" y="107.3" width="7" height="13.2" fill="#ef5350"/>
<rect x="1224" y="109.1" width="1" height="34.8" fill="#ef5350"/>
<rect x="1221" y="120.1" width="7" height="19.3" fill="#ef5350"/>
<rect x="1234" y="122.3" width="1" height="25.6" fill="#26a69a"/>
<rect x="1231" y="130.0" width="7" height="9.4" fill="#26a69a"/>
<rect x="1243" y="119.2" width="1" height="27.4" fill="#26a69a"/>
<rect x="1240" y="120.1" width="7" height="10.7" fill="#26a69a"/>
<rect x="1253" y="107.3" width="1" height="16.4" fill="#26a69a"/>
<rect x="1250" y="118.1" width="7" height="2.4" fill="#26a69a"/>
<rect x="1263" y="79.0" width="1" height="42.7" fill="#26a69a"/>
<rect x="1260" y="85.3" width="7" height="33.4" fill="#26a69a"/>
<rect x="1273" y="68.1" width="1" height="25.7" fill="#26a69a"/>
<rect x="1270" y="69.1" width="7" height="16.6" fill="#26a69a"/>
<rect x="1283" y="58.2" width="1" height="21.7" fill="#ef5350"/>
<rect x="1280" y="69.8" width="7" height="1.0" fill="#ef5350"/>
<rect x="1293" y="66.2" width="1" height="28.6" fill="#ef5350"/>
<rect x="1290" y="70.2" width="7" height="9.7" fill="#ef5350"/>
<rect x="1302" y="73.1" width="1" height="54.6" fill="#ef5350"/>
<rect x="1299" y="79.2" width="7" height="40.5" fill="#ef5350"/>
<rect x="1312" y="111.1" width="1" height="18.6" fill="#ef5350"/>
<rect x="1309" y="119.3" width="7" height="1.0" fill="#ef5350"/>
<rect x="1322" y="113.1" width="1" height="16.7" fill="#26a69a"/>
<rect x="1319" y="117.1" width="7" height="2.7" fill="#26a69a"/>
<rect x="1332" y="115.2" width="1" height="64.7" fill="#ef5350"/>
<rect x="1329" y="117.1" width="7" height="48.5" fill="#ef5350"/>
<rect x="1342" y="157.9" width="1" height="47.1" fill="#ef5350"/>
<rect x="1339" y="165.0" width="7" height="18.8" fill="#ef5350"/>
<rect x="1352" y="161.9" width="1" height="36.8" fill="#26a69a"/>
<rect x="1349" y="169.1" width="7" height="14.7" fill="#26a69a"/>
<rect x="1362" y="149.2" width="1" height="35.6" fill="#26a69a"/>
<rect x="1359" y="152.0" width="7" height="17.8" fill="#26a69a"/>
<rect x="1371" y="131.1" width="1" height="25.7" fill="#26a69a"/>
<rect x="1368" y="134.0" width="7" height="18.8" fill="#26a69a"/>
<rect x="1381" y="128.2" width="1" height="14.6" fill="#26a69a"/>
<rect x="1378" y="133.3" width="7" height="1.0" fill="#26a69a"/>
<rect x="1391" y="104.0" width="1" height="29.7" fill="#26a69a"/>
<rect x="1388" y="114.1" width="7" height="19.6" fill="#26a69a"/>
<rect x="1401" y="105.1" width="1" height="20.7" fill="#26a69a"/>
<rect x="1398" y="111.2" width="7" height="3.7" fill="#26a69a"/>
<rect x="1411" y="109.0" width="1" height="36.8" fill="#ef5350"/>
<rect x="1408" y="111.2" width="7" height="32.6" fill="#ef5350"/>
<rect x="1421" y="125.2" width="1" height="22.5" fill="#26a69a"/>
<rect x="1418" y="130.0" width="7" height="13.8" fill="#26a69a"/>
<rect x="1431" y="97.2" width="1" height="35.2" fill="#26a69a"/>
<rect x="1428" y="103.1" width="7" height="27.7" fill="#26a69a"/>
<rect x="1440" y="93.0" width="1" height="39.7" fill="#ef5350"/>
<rect x="1437" y="102.9" width="7" height="22.8" fill="#ef5350"/>
<rect x="1450" y="120.9" width="1" height="18.9" fill="#ef5350"/>
<rect x="1447" y="125.4" width="7" height="1.0" fill="#ef5350"/>
<rect x="1460" y="114.1" width="1" height="19.8" fill="#26a69a"/>
<rect x="1457" y="125.4" width="7" height="1.0" fill="#26a69a"/>
<rect x="1470" y="120.0" width="1" height="37.9" fill="#ef5350"/>
<rect x="1467" y="125.1" width="7" height="28.7" fill="#ef5350"/>
<rect x="1480" y="129.1" width="1" height="43.0" fill="#26a69a"/>
<rect x="1477" y="129.9" width="7" height="23.9" fill="#26a69a"/>
<rect x="1490" y="117.1" width="1" height="29.7" fill="#26a69a"/>
<rect x="1487" y="120.1" width="7" height="11.0" fill="#26a69a"/>
<rect x="1500" y="118.1" width="1" height="11.8" fill="#ef5350"/>
<rect x="1497" y="120.1" width="7" height="3.8" fill="#ef5350"/>
<line x1="0" y1="123.5" x2="1692" y2="123.5" stroke="#ef5350" stroke-width="1" stroke-dasharray="1 2"/>
<rect x="0" y="602" width="1752" height="1" fill="#ebebeb"/>
<rect x="1692" y="0" width="1" height="602" fill="#50535e"/>
<rect x="1692" y="603" width="1" height="227" fill="#50535e"/>
<rect x="0" y="802" width="1752" height="1" fill="#50535e"/>
<rect x="0" y="830" width="1752" height="1" fill="#ececec"/>
<g shape-rendering="auto"><circle cx="14.8" cy="13.9" r="8.9" fill="#a9a9bd"/><path d="M13.2,10 L16.9,10 L18.1,13 L11.8,13 Z" fill="#fff"/><path d="M9.8,13.9 L13.2,13.9 L14.3,16.9 L8.2,16.9 Z" fill="#fff"/><path d="M16.4,13.9 L20.1,13.9 L21.7,16.9 L15.6,16.9 Z" fill="#fff"/></g>
<text x="27.599999999999998" y="19.9" font-size="15.7" fill="#4a4d57" font-weight="normal" textLength="40.5" lengthAdjust="spacingAndGlyphs" shape-rendering="auto">Silver</text>
<text x="73.2" y="19.9" font-size="15.7" fill="#4a4d57" font-weight="normal" shape-rendering="auto">/</text>
<text x="85.80000000000001" y="19.9" font-size="15.7" fill="#4a4d57" font-weight="normal" textLength="29.3" lengthAdjust="spacingAndGlyphs" shape-rendering="auto">U.S.</text>
<text x="120.30000000000001" y="19.9" font-size="15.7" fill="#4a4d57" font-weight="normal" textLength="42.8" lengthAdjust="spacingAndGlyphs" shape-rendering="auto">Dollar</text>
<circle cx="168.80" cy="15.2" r="1.15" fill="#4a4d57" shape-rendering="auto"/>
<text x="174.5" y="19.9" font-size="15.7" fill="#4a4d57" font-weight="normal" textLength="19.0" lengthAdjust="spacingAndGlyphs" shape-rendering="auto">1D</text>
<circle cx="199.15" cy="15.2" r="1.15" fill="#4a4d57" shape-rendering="auto"/>
<text x="204.9" y="19.9" font-size="15.7" fill="#4a4d57" font-weight="normal" textLength="37.5" lengthAdjust="spacingAndGlyphs" shape-rendering="auto">SAXO</text>
<g shape-rendering="auto"><path d="M266,5 L277,5 L277,23 L266,23 A9,9 0 0 1 266,5 Z" fill="#e0f2ee"/><path d="M277,5 L288,5 A9,9 0 0 1 288,23 L277,23 Z" fill="#fce4ec"/><circle cx="268" cy="13.8" r="4.1" fill="#089981"/></g>
<text x="280.8" y="18" font-size="12.5" fill="#e91e63" font-weight="bold" textLength="10.0" lengthAdjust="spacingAndGlyphs" shape-rendering="auto">≈</text>
<text x="312.5" y="18.8" font-size="12.5" fill="#42454f" font-weight="normal" textLength="9.5" lengthAdjust="spacingAndGlyphs" shape-rendering="auto">O</text>
<text x="322.8" y="18.8" font-size="12.5" fill="#ef5350" font-weight="normal" textLength="45.7" lengthAdjust="spacingAndGlyphs" shape-rendering="auto">38.1475</text>
<text x="374.5" y="18.8" font-size="12.5" fill="#42454f" font-weight="normal" textLength="8.5" lengthAdjust="spacingAndGlyphs" shape-rendering="auto">H</text>
<text x="384" y="18.8" font-size="12.5" fill="#ef5350" font-weight="normal" textLength="45.5" lengthAdjust="spacingAndGlyphs" shape-rendering="auto">38.1895</text>
<text x="435.5" y="18.8" font-size="12.5" fill="#42454f" font-weight="normal" textLength="7.5" lengthAdjust="spacingAndGlyphs" shape-rendering="auto">L</text>
<text x="443.3" y="18.8" font-size="12.5" fill="#ef5350" font-weight="normal" textLength="45.2" lengthAdjust="spacingAndGlyphs" shape-rendering="auto">37.9049</text>
<text x="494.5" y="18.8" font-size="12.5" fill="#42454f" font-weight="normal" textLength="8.0" lengthAdjust="spacingAndGlyphs" shape-rendering="auto">C</text>
<text x="504" y="18.8" font-size="12.5" fill="#ef5350" font-weight="normal" textLength="45.5" lengthAdjust="spacingAndGlyphs" shape-rendering="auto">38.0600</text>
<text x="555.5" y="18.8" font-size="12.5" fill="#ef5350" font-weight="normal" textLength="45.5" lengthAdjust="spacingAndGlyphs" shape-rendering="auto">−0.0875</text>
<text x="605.5" y="18.8" font-size="12.5" fill="#ef5350" font-weight="normal" textLength="48.5" lengthAdjust="spacingAndGlyphs" shape-rendering="auto">(−0.23%)</text>
<rect x="5.5" y="30.5" width="68" height="33" rx="5" fill="#fff" stroke="#f23645" stroke-width="1" shape-rendering="auto"/>
<rect x="100.5" y="30.5" width="68" height="33" rx="5" fill="#fff" stroke="#2962ff" stroke-width="1" shape-rendering="auto"/>
<text x="16.3" y="44.1" font-size="12.5" fill="#f23645" font-weight="normal" textLength="46.0" lengthAdjust="spacingAndGlyphs" shape-rendering="auto">38.0582</text>
<text x="27.2" y="57.9" font-size="11" fill="#f23645" font-weight="normal" textLength="24.0" lengthAdjust="spacingAndGlyphs" shape-rendering="auto">SELL</text>
<text x="111.3" y="44.1" font-size="12.5" fill="#2962ff" font-weight="normal" textLength="46.6" lengthAdjust="spacingAndGlyphs" shape-rendering="auto">38.0618</text>
<text x="124" y="57.9" font-size="11" fill="#2962ff" font-weight="normal" textLength="21.0" lengthAdjust="spacingAndGlyphs" shape-rendering="auto">BUY</text>
<text x="82" y="50.4" font-size="10" fill="#131722" font-weight="normal" textLength="10.3" lengthAdjust="spacingAndGlyphs" shape-rendering="auto">36</text>
<text x="6" y="84.9" font-size="13" fill="#42454f" font-weight="normal" textLength="74.0" lengthAdjust="spacingAndGlyphs" shape-rendering="auto">EMA 20 close</text>
<text x="88" y="84.9" font-size="13" fill="#43a047" font-weight="normal" textLength="46.0" lengthAdjust="spacingAndGlyphs" shape-rendering="auto">37.8944</text>
<rect x="3.5" y="95.5" width="28" height="20" rx="3" fill="#fff" stroke="#dadada" stroke-width="1" shape-rendering="auto"/>
<polyline points="13.3,107.8 17.5,103.6 21.7,107.8" fill="none" stroke="#131722" stroke-width="1.6" shape-rendering="auto"/>
<text x="5.8" y="623.8" font-size="13" fill="#42454f" font-weight="normal" textLength="111.7" lengthAdjust="spacingAndGlyphs" shape-rendering="auto">MACD 12 26 close 9</text>
<g shape-rendering="auto"><circle cx="134" cy="619.6" r="8.2" fill="#e8e1fb"/><path d="M129.8,618.5 A4.3,4.3 0 0 1 137.6,617" fill="none" stroke="#6f3cf5" stroke-width="1.5"/><path d="M138.2,620.7 A4.3,4.3 0 0 1 130.4,622.2" fill="none" stroke="#6f3cf5" stroke-width="1.5"/><path d="M136,615.3 L139,617.8 L135.5,618.6 Z" fill="#6f3cf5"/><path d="M132,623.9 L129,621.4 L132.5,620.6 Z" fill="#6f3cf5"/></g>
<text x="151.3" y="623.8" font-size="13" fill="#ffcdd2" font-weight="normal" textLength="45.7" lengthAdjust="spacingAndGlyphs" shape-rendering="auto">−0.0462</text>
<text x="202.8" y="623.8" font-size="13" fill="#131722" font-weight="normal" textLength="38.2" lengthAdjust="spacingAndGlyphs" shape-rendering="auto">0.1501</text>
<text x="247.8" y="623.8" font-size="13" fill="#f23645" font-weight="normal" textLength="38.9" lengthAdjust="spacingAndGlyphs" shape-rendering="auto">0.1963</text>
<text x="1700.6" y="41.9" font-size="12" fill="#50535e" font-weight="normal" textLength="43.0" lengthAdjust="spacingAndGlyphs" shape-rendering="auto">40.0000</text>
<text x="1700.6" y="85.9" font-size="12" fill="#50535e" font-weight="normal" textLength="43.0" lengthAdjust="spacingAndGlyphs" shape-rendering="auto">39.0000</text>
<text x="1700.6" y="174.9" font-size="12" fill="#50535e" font-weight="normal" textLength="43.0" lengthAdjust="spacingAndGlyphs" shape-rendering="auto">37.0000</text>
<text x="1700.6" y="218.9" font-size="12" fill="#50535e" font-weight="normal" textLength="43.0" lengthAdjust="spacingAndGlyphs" shape-rendering="auto">36.0000</text>
<text x="1700.6" y="263.9" font-size="12" fill="#50535e" font-weight="normal" textLength="43.0" lengthAdjust="spacingAndGlyphs" shape-rendering="auto">35.0000</text>
<text x="1700.6" y="307.9" font-size="12" fill="#50535e" font-weight="normal" textLength="43.0" lengthAdjust="spacingAndGlyphs" shape-rendering="auto">34.0000</text>
<text x="1700.6" y="351.9" font-size="12" fill="#50535e" font-weight="normal" textLength="43.0" lengthAdjust="spacingAndGlyphs" shape-rendering="auto">33.0000</text>
<text x="1700.6" y="396.9" font-size="12" fill="#50535e" font-weight="normal" textLength="43.0" lengthAdjust="spacingAndGlyphs" shape-rendering="auto">32.0000</text>
<text x="1700.6" y="440.9" font-size="12" fill="#50535e" font-weight="normal" textLength="43.0" lengthAdjust="spacingAndGlyphs" shape-rendering="auto">31.0000</text>
<text x="1700.6" y="484.9" font-size="12" fill="#50535e" font-weight="normal" textLength="43.0" lengthAdjust="spacingAndGlyphs" shape-rendering="auto">30.0000</text>
<text x="1700.6" y="529.9" font-size="12" fill="#50535e" font-weight="normal" textLength="43.0" lengthAdjust="spacingAndGlyphs" shape-rendering="auto">29.0000</text>
<text x="1700.6" y="573.9" font-size="12" fill="#50535e" font-weight="normal" textLength="43.0" lengthAdjust="spacingAndGlyphs" shape-rendering="auto">28.0000</text>
<text x="1700.6" y="628.9" font-size="12" fill="#50535e" font-weight="normal" textLength="43.0" lengthAdjust="spacingAndGlyphs" shape-rendering="auto">1.0000</text>
<text x="1700.6" y="680.9" font-size="12" fill="#50535e" font-weight="normal" textLength="43.0" lengthAdjust="spacingAndGlyphs" shape-rendering="auto">0.5000</text>
<text x="1700.6" y="733.9" font-size="12" fill="#50535e" font-weight="normal" textLength="43.0" lengthAdjust="spacingAndGlyphs" shape-rendering="auto">0.0000</text>
<text x="1700.8" y="785.9" font-size="12" fill="#50535e" font-weight="normal" textLength="42.8" lengthAdjust="spacingAndGlyphs" shape-rendering="auto">−0.5000</text>
<path d="M1693,115 L1750,115 Q1752,115 1752,117 L1752,144 Q1752,146 1750,146 L1693,146 Z" fill="#ef5350"/>
<text x="1700.6" y="128.1" font-size="12" fill="#ffffff" stroke="#ffffff" stroke-width="0.3" textLength="43" lengthAdjust="spacingAndGlyphs">38.0600</text>
<text x="1701" y="142" font-size="12" fill="rgba(255,255,255,0.85)" font-weight="normal" textLength="47.0" lengthAdjust="spacingAndGlyphs" shape-rendering="auto">12:24:58</text>
<rect x="1696.5" y="2.5" width="62" height="25" rx="4" fill="#fff" stroke="#e0e3eb" stroke-width="1" shape-rendering="auto"/>
<text x="1700" y="18.9" font-size="12.5" fill="#131722" font-weight="normal" textLength="21.0" lengthAdjust="spacingAndGlyphs" shape-rendering="auto">USD</text>
<polyline points="1743.8,14 1746.4,16.4 1749,14" fill="none" stroke="#131722" stroke-width="1.3" shape-rendering="auto"/>
<text x="80.5" y="819.8" font-size="12.5" fill="#50535e" text-anchor="middle" shape-rendering="auto">Feb</text>
<text x="277.5" y="819.8" font-size="12.5" fill="#50535e" text-anchor="middle" shape-rendering="auto">Mar</text>
<text x="484.5" y="819.8" font-size="12.5" fill="#50535e" text-anchor="middle" shape-rendering="auto">Apr</text>
<text x="700.5" y="819.8" font-size="12.5" fill="#50535e" text-anchor="middle" shape-rendering="auto">May</text>
<text x="917.5" y="819.8" font-size="12.5" fill="#50535e" text-anchor="middle" shape-rendering="auto">Jun</text>
<text x="1124.5" y="819.8" font-size="12.5" fill="#50535e" text-anchor="middle" shape-rendering="auto">Jul</text>
<text x="1351.5" y="819.8" font-size="12.5" fill="#50535e" text-anchor="middle" shape-rendering="auto">Aug</text>
<text x="1558.5" y="819.8" font-size="12.5" fill="#50535e" text-anchor="middle" shape-rendering="auto">Sep</text>
<g shape-rendering="auto"><path d="M1722,810.6 L1729.2,810.6 L1732.6,816.4 L1729.2,822.2 L1722,822.2 L1718.6,816.4 Z" fill="none" stroke="#131722" stroke-width="1.1"/><circle cx="1725.5" cy="816.4" r="2.1" fill="none" stroke="#131722" stroke-width="1.1"/></g>
<g shape-rendering="auto" fill="#131313"><path d="M9,773.2 L21,773.2 L21,787.8 L15,787.8 L15,779 L9,779 Z"/><circle cx="26.3" cy="775.9" r="2.7"/><path d="M30.2,773.2 L38.8,773.2 L34.6,787.8 L26.2,787.8 Z"/></g>
<text x="46" y="787.8" font-size="20.5" fill="#131313" font-weight="bold" textLength="121.2" lengthAdjust="spacingAndGlyphs" shape-rendering="auto">TradingView</text>
<g shape-rendering="auto"><circle cx="1500.4" cy="564.4" r="10.3" fill="#fff"/><circle cx="1500.4" cy="564.4" r="9.4" fill="none" stroke="#9c27b0" stroke-width="1.5" stroke-dasharray="50.2 8.86" stroke-dashoffset="2.79"/><path d="M1503,559.8 L1496.9,564.5 L1504,564.5 L1497.6,569.2" fill="none" stroke="#9c27b0" stroke-width="1.9" stroke-linejoin="round" stroke-linecap="round"/><circle cx="1507.4" cy="557.5" r="2.5" fill="#f23645"/></g>
<g shape-rendering="auto"><circle cx="1499.5" cy="588.9" r="9.5" fill="#fff" stroke="#f23645" stroke-width="1.8"/><clipPath id="cl1499"><circle cx="1499.5" cy="588.9" r="7.7"/></clipPath><g clip-path="url(#cl1499)"><rect x="1491.5" y="580.8" width="10.2" height="10.1" fill="#1e88e5"/><rect x="1501.7" y="581.7" width="7" height="2.7" fill="#ef5350"/><rect x="1501.7" y="587" width="7" height="3.9" fill="#ef5350"/><rect x="1491.5" y="593.1" width="16" height="3.7" fill="#ef5350"/><rect x="1495.5" y="582.8" width="5" height="0.9" fill="#cfe6fb"/><rect x="1493.5" y="585.3" width="7" height="0.9" fill="#cfe6fb"/><rect x="1493.5" y="587.8" width="7" height="0.9" fill="#cfe6fb"/></g></g>
<g shape-rendering="auto"><circle cx="1519.5" cy="588.9" r="9.5" fill="#fff" stroke="#f23645" stroke-width="1.8"/><clipPath id="cl1519"><circle cx="1519.5" cy="588.9" r="7.7"/></clipPath><g clip-path="url(#cl1519)"><rect x="1511.5" y="580.8" width="10.2" height="10.1" fill="#1e88e5"/><rect x="1521.7" y="581.7" width="7" height="2.7" fill="#ef5350"/><rect x="1521.7" y="587" width="7" height="3.9" fill="#ef5350"/><rect x="1511.5" y="593.1" width="16" height="3.7" fill="#ef5350"/><rect x="1515.5" y="582.8" width="5" height="0.9" fill="#cfe6fb"/><rect x="1513.5" y="585.3" width="7" height="0.9" fill="#cfe6fb"/><rect x="1513.5" y="587.8" width="7" height="0.9" fill="#cfe6fb"/></g></g>
</svg>
</body></html>
